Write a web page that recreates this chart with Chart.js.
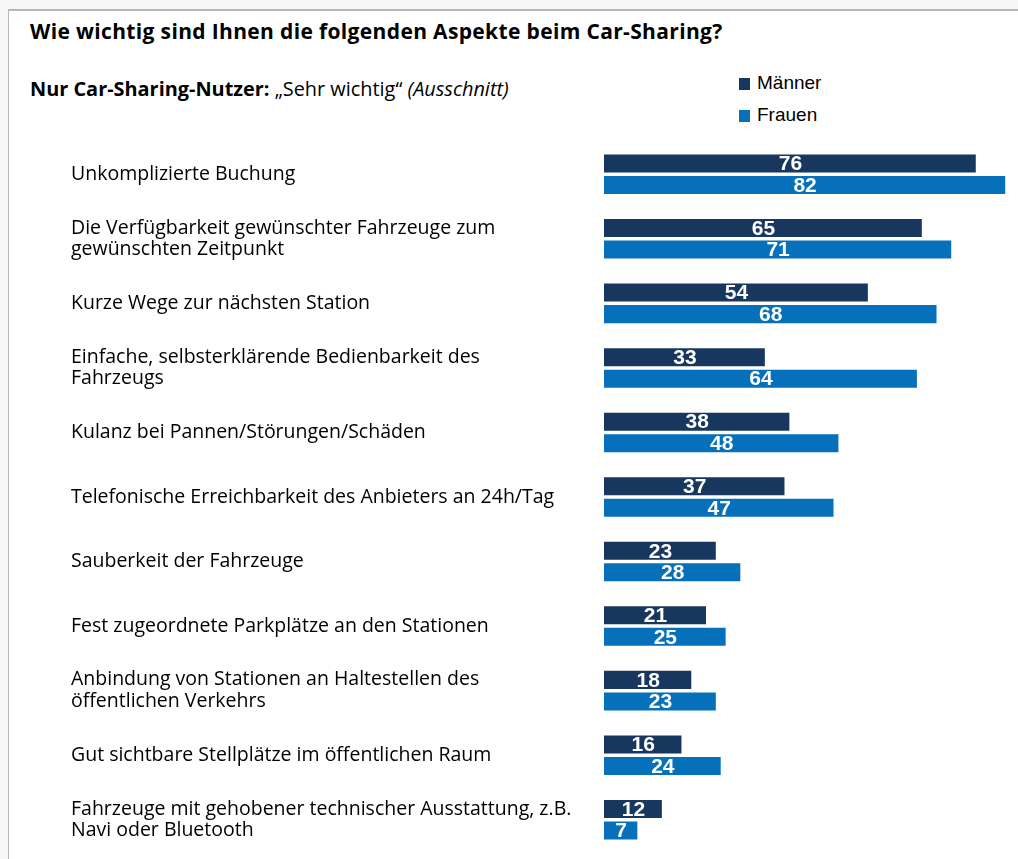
<!DOCTYPE html>
<html>
<head>
<meta charset="utf-8">
<script src="https://cdn.jsdelivr.net/npm/chart.js@4/dist/chart.umd.min.js"></script>
<style>
  html, body { margin: 0; padding: 0; }
  body { width: 1018px; height: 859px; background: #f6f6f6; overflow: hidden; position: relative; }
  #frame {
    position: absolute; left: 8px; top: 9px; width: 1030px; height: 870px;
    background: #fff; border-left: 1px solid #b8b8b8; border-top: 2px solid #b8b8b8;
  }
  #title {
    position: absolute; left: 30px; top: 17px; letter-spacing: 0.35px;
    font: bold 21px "Open Sans", sans-serif; color: #000; white-space: nowrap;
  }
  #subtitle {
    position: absolute; left: 30px; top: 75px;
    font: 19.9px "Open Sans", sans-serif; color: #000; white-space: nowrap;
  }
  #legend { position: absolute; left: 739px; top: 0; font: 19px "Liberation Sans", Arial, sans-serif; color: #000; }
  .box { position: absolute; left: 0; width: 11px; height: 12px; }
  .txt { position: absolute; left: 18px; white-space: nowrap; }
  #wrap { position: absolute; left: 9px; top: 130px; width: 1009px; height: 729px; }
</style>
</head>
<body>
<div id="frame"></div>
<div id="title">Wie wichtig sind Ihnen die folgenden Aspekte beim Car-Sharing?</div>
<div id="subtitle"><b>Nur Car-Sharing-Nutzer:</b> „Sehr wichtig“ <i>(Ausschnitt)</i></div>
<div id="legend"></div>
<div id="wrap"><canvas id="chart"></canvas></div>
<script>
const categories = [
    ["Unkomplizierte Buchung"],
    ["Die Verfügbarkeit gewünschter Fahrzeuge zum", "gewünschten Zeitpunkt"],
    ["Kurze Wege zur nächsten Station"],
    ["Einfache, selbsterklärende Bedienbarkeit des", "Fahrzeugs"],
    ["Kulanz bei Pannen/Störungen/Schäden"],
    ["Telefonische Erreichbarkeit des Anbieters an 24h/Tag"],
    ["Sauberkeit der Fahrzeuge"],
    ["Fest zugeordnete Parkplätze an den Stationen"],
    ["Anbindung von Stationen an Haltestellen des", "öffentlichen Verkehrs"],
    ["Gut sichtbare Stellplätze im öffentlichen Raum"],
    ["Fahrzeuge mit gehobener technischer Ausstattung, z.B.", "Navi oder Bluetooth"]
];
const maenner = [76, 65, 54, 33, 38, 37, 23, 21, 18, 16, 12];
const frauen = [82, 71, 68, 64, 48, 47, 28, 25, 23, 24, 7];
const seriesNames = ["Männer", "Frauen"];
const seriesColors = ["#17375e", "#0670ba"];

// legend in HTML (vertical list top right)
const legendEl = document.getElementById('legend');
seriesNames.forEach((name, i) => {
    const top = 72 + i * 31.7;
    legendEl.innerHTML += `<span class="box" style="top:${top + 6}px;background:${seriesColors[i]}"></span>` +
        `<span class="txt" style="top:${top}px">${name}</span>`;
});

// draws the value in the middle of each bar
const valueLabels = {
    id: 'valueLabels',
    afterDatasetsDraw(chart) {
        const ctx = chart.ctx;
        ctx.save();
        ctx.font = 'bold 21px "Liberation Sans", Arial, sans-serif';
        ctx.fillStyle = '#fff';
        ctx.textAlign = 'center';
        ctx.textBaseline = 'middle';
        chart.data.datasets.forEach((ds, di) => {
            chart.getDatasetMeta(di).data.forEach((bar, i) => {
                const cx = (bar.x + bar.base) / 2;
                ctx.fillText(ds.data[i], cx, bar.y + 1);
            });
        });
        ctx.restore();
    }
};

const ctx = document.getElementById('chart').getContext('2d');
new Chart(ctx, {
    type: 'bar',
    data: {
        labels: categories,
        datasets: [
            {
                label: seriesNames[0],
                data: maenner,
                backgroundColor: seriesColors[0],
                borderColor: 'rgba(255,255,255,0.5)',
                borderWidth: 1,
                categoryPercentage: 0.667,
                barPercentage: 0.93
            },
            {
                label: seriesNames[1],
                data: frauen,
                backgroundColor: seriesColors[1],
                borderColor: 'rgba(255,255,255,0.5)',
                borderWidth: 1,
                categoryPercentage: 0.667,
                barPercentage: 0.93
            }
        ]
    },
    options: {
        indexAxis: 'y',
        responsive: true,
        maintainAspectRatio: false,
        animation: false,
        layout: { autoPadding: false, padding: { top: 12, bottom: 7, left: 62, right: 2 } },
        plugins: {
            legend: { display: false },
            tooltip: { enabled: false }
        },
        scales: {
            x: {
                min: 0,
                max: 84,
                display: false,
                grid: { display: false }
            },
            y: {
                grid: { display: false },
                border: { display: false },
                afterFit: function(scale) {
                    scale.width = 533; // bars start at x≈604 on the page
                    scale.paddingTop = 0;
                    scale.paddingBottom = 0;
                },
                ticks: {
                    crossAlign: 'far',
                    padding: 0,
                    color: '#000',
                    font: { family: '"Open Sans", sans-serif', size: 19.5, lineHeight: 1.1 }
                }
            }
        }
    },
    plugins: [valueLabels]
});
</script>
</body>
</html>
